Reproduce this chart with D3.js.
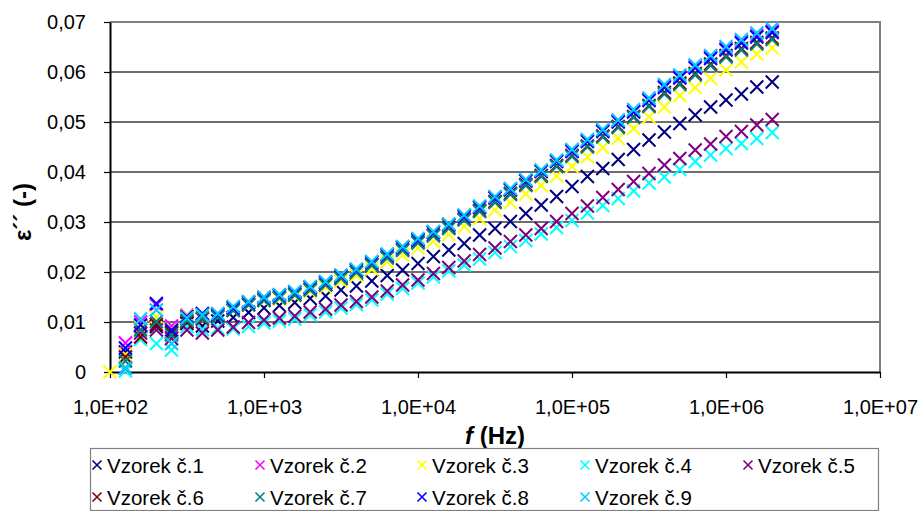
<!DOCTYPE html>
<html>
<head>
<meta charset="utf-8">
<script src="https://cdn.jsdelivr.net/npm/d3@7"></script>
<style>
  html, body { margin: 0; padding: 0; background: #fff; }
  svg text { font-family: "Liberation Sans", Arial, sans-serif; fill: #000; }
</style>
</head>
<body>
<svg id="chart" width="920" height="511"></svg>
<script>
// Measurement frequencies (Hz), ten per decade
const frequencies = [
  100, 126, 158, 200, 251, 316, 398, 501, 631, 794,
  1000, 1259, 1585, 1995, 2512, 3162, 3981, 5012, 6310, 7943,
  10000, 12589, 15849, 19953, 25119, 31623, 39811, 50119, 63096, 79433,
  100000, 125893, 158489, 199526, 251189, 316228, 398107, 501187, 630957, 794328,
  1000000, 1258925, 1584893, 1995262
];

const seriesNames = ["Vzorek č.1", "Vzorek č.2", "Vzorek č.3", "Vzorek č.4", "Vzorek č.5",
                     "Vzorek č.6", "Vzorek č.7", "Vzorek č.8", "Vzorek č.9"];
const seriesColors = ["#000080", "#FF00FF", "#FFFF00", "#00FFFF", "#800080",
                      "#800000", "#008080", "#0000FF", "#00CCFF"];

// Dielectric loss factor ε'' per sample
const vzorek1 = [null, 0.0040, 0.0091, 0.0091, 0.0080, 0.0097, 0.0092, 0.0102, 0.0109, 0.0119,
  0.0128, 0.0133, 0.0139, 0.0147, 0.0152, 0.0164, 0.0172, 0.0182, 0.0193, 0.0204,
  0.0217, 0.0231, 0.0244, 0.0257, 0.0274, 0.0287, 0.0301, 0.0317, 0.0334, 0.0351,
  0.0371, 0.0391, 0.0407, 0.0425, 0.0445, 0.0464, 0.0480, 0.0497, 0.0514, 0.0530,
  0.0544, 0.0556, 0.0570, 0.0580];
const vzorek2 = [null, 0.0058, 0.0100, 0.0134, 0.0092, 0.0114, 0.0115, 0.0116, 0.0129, 0.0140,
  0.0149, 0.0154, 0.0160, 0.0170, 0.0180, 0.0193, 0.0205, 0.0220, 0.0235, 0.0250,
  0.0265, 0.0280, 0.0295, 0.0312, 0.0330, 0.0349, 0.0365, 0.0383, 0.0402, 0.0422,
  0.0443, 0.0463, 0.0483, 0.0502, 0.0522, 0.0545, 0.0572, 0.0591, 0.0611, 0.0630,
  0.0647, 0.0661, 0.0673, 0.0682];
const vzorek3 = [0.0000, 0.0035, 0.0090, 0.0110, 0.0085, 0.0113, 0.0110, 0.0112, 0.0124, 0.0134,
  0.0142, 0.0146, 0.0152, 0.0161, 0.0170, 0.0182, 0.0193, 0.0206, 0.0220, 0.0234,
  0.0248, 0.0261, 0.0275, 0.0291, 0.0307, 0.0324, 0.0339, 0.0356, 0.0373, 0.0392,
  0.0411, 0.0430, 0.0449, 0.0467, 0.0487, 0.0510, 0.0530, 0.0553, 0.0569, 0.0587,
  0.0604, 0.0620, 0.0636, 0.0648];
const vzorek4 = [null, 0.0002, 0.0065, 0.0057, 0.0044, 0.0091, 0.0085, 0.0088, 0.0086, 0.0091,
  0.0098, 0.0102, 0.0106, 0.0114, 0.0120, 0.0128, 0.0135, 0.0144, 0.0156, 0.0167,
  0.0178, 0.0190, 0.0202, 0.0214, 0.0226, 0.0239, 0.0251, 0.0263, 0.0276, 0.0289,
  0.0303, 0.0318, 0.0333, 0.0347, 0.0362, 0.0378, 0.0390, 0.0405, 0.0421, 0.0434,
  0.0447, 0.0457, 0.0467, 0.0479];
const vzorek5 = [null, 0.0008, 0.0078, 0.0084, 0.0067, 0.0084, 0.0078, 0.0084, 0.0090, 0.0099,
  0.0104, 0.0108, 0.0112, 0.0120, 0.0126, 0.0134, 0.0141, 0.0150, 0.0162, 0.0174,
  0.0184, 0.0197, 0.0209, 0.0222, 0.0235, 0.0248, 0.0261, 0.0274, 0.0287, 0.0301,
  0.0317, 0.0332, 0.0349, 0.0365, 0.0381, 0.0397, 0.0414, 0.0427, 0.0444, 0.0456,
  0.0471, 0.0481, 0.0494, 0.0505];
const vzorek6 = [null, 0.0030, 0.0070, 0.0095, 0.0078, 0.0100, 0.0106, 0.0112, 0.0124, 0.0135,
  0.0144, 0.0149, 0.0155, 0.0165, 0.0175, 0.0188, 0.0200, 0.0215, 0.0230, 0.0245,
  0.0260, 0.0274, 0.0289, 0.0306, 0.0323, 0.0341, 0.0357, 0.0375, 0.0393, 0.0413,
  0.0433, 0.0452, 0.0472, 0.0491, 0.0511, 0.0533, 0.0559, 0.0578, 0.0597, 0.0616,
  0.0633, 0.0647, 0.0659, 0.0668];
const vzorek7 = [null, 0.0022, 0.0084, 0.0101, 0.0074, 0.0103, 0.0108, 0.0110, 0.0123, 0.0134,
  0.0143, 0.0148, 0.0154, 0.0164, 0.0174, 0.0187, 0.0199, 0.0213, 0.0228, 0.0243,
  0.0258, 0.0272, 0.0287, 0.0304, 0.0321, 0.0339, 0.0355, 0.0373, 0.0391, 0.0411,
  0.0431, 0.0450, 0.0470, 0.0489, 0.0509, 0.0531, 0.0556, 0.0575, 0.0594, 0.0613,
  0.0630, 0.0644, 0.0656, 0.0665];
const vzorek8 = [null, 0.0048, 0.0094, 0.0137, 0.0084, 0.0111, 0.0117, 0.0115, 0.0128, 0.0139,
  0.0148, 0.0153, 0.0159, 0.0169, 0.0179, 0.0192, 0.0204, 0.0219, 0.0234, 0.0249,
  0.0264, 0.0279, 0.0294, 0.0311, 0.0329, 0.0348, 0.0364, 0.0382, 0.0401, 0.0421,
  0.0441, 0.0461, 0.0481, 0.0500, 0.0520, 0.0543, 0.0569, 0.0588, 0.0608, 0.0627,
  0.0644, 0.0658, 0.0670, 0.0679];
const vzorek9 = [null, 0.0008, 0.0106, 0.0124, 0.0057, 0.0108, 0.0114, 0.0117, 0.0131, 0.0141,
  0.0150, 0.0155, 0.0161, 0.0171, 0.0181, 0.0194, 0.0206, 0.0221, 0.0236, 0.0251,
  0.0267, 0.0281, 0.0296, 0.0314, 0.0332, 0.0351, 0.0367, 0.0385, 0.0404, 0.0424,
  0.0445, 0.0465, 0.0485, 0.0504, 0.0525, 0.0548, 0.0575, 0.0594, 0.0614, 0.0633,
  0.0651, 0.0665, 0.0678, 0.0687];

const seriesValues = [vzorek1, vzorek2, vzorek3, vzorek4, vzorek5, vzorek6, vzorek7, vzorek8, vzorek9];

// Axis ticks
const xTicks = [1e2, 1e3, 1e4, 1e5, 1e6, 1e7];
const xTickLabels = ["1,0E+02", "1,0E+03", "1,0E+04", "1,0E+05", "1,0E+06", "1,0E+07"];
const yTicks = [0, 0.01, 0.02, 0.03, 0.04, 0.05, 0.06, 0.07];
const yTickLabels = ["0", "0,01", "0,02", "0,03", "0,04", "0,05", "0,06", "0,07"];

const svg = d3.select("#chart");
const plot = { left: 110, right: 880, top: 22, bottom: 372 };

const x = d3.scaleLog().domain([1e2, 1e7]).range([plot.left, plot.right]);
const y = d3.scaleLinear().domain([0, 0.07]).range([plot.bottom, plot.top]);

// Horizontal gridlines
svg.append("g")
  .selectAll("line")
  .data(yTicks.slice(1))
  .join("line")
  .attr("x1", plot.left).attr("x2", plot.right)
  .attr("y1", d => y(d)).attr("y2", d => y(d))
  .attr("stroke", "#6e6e6e").attr("stroke-width", 1.2)
  .attr("shape-rendering", "crispEdges");

// Plot area frame (top and right)
svg.append("path")
  .attr("d", `M${plot.left},${plot.top}H${plot.right}V${plot.bottom}`)
  .attr("fill", "none").attr("stroke", "#808080").attr("stroke-width", 2);

// Y axis
const yAxis = d3.axisLeft(y)
  .tickValues(yTicks)
  .tickFormat((d, i) => yTickLabels[i])
  .tickSize(6).tickSizeOuter(0).tickPadding(18);
const gy = svg.append("g").attr("transform", `translate(${plot.left},0)`).call(yAxis);
gy.select(".domain").attr("stroke", "#000").attr("stroke-width", 2);
gy.selectAll(".tick line").attr("stroke", "#000").attr("stroke-width", 1.2);
gy.selectAll(".tick text")
  .attr("font-family", "Liberation Sans, Arial, sans-serif")
  .attr("font-size", 20).attr("fill", "#000");

// X axis
const xAxis = d3.axisBottom(x)
  .tickValues(xTicks)
  .tickFormat((d, i) => xTickLabels[i])
  .tickSize(6).tickSizeOuter(0).tickPadding(22);
const gx = svg.append("g").attr("transform", `translate(0,${plot.bottom})`).call(xAxis);
gx.select(".domain").attr("stroke", "#000").attr("stroke-width", 2);
gx.selectAll(".tick line").attr("stroke", "#000").attr("stroke-width", 1.2);
gx.selectAll(".tick text")
  .attr("font-family", "Liberation Sans, Arial, sans-serif")
  .attr("font-size", 20).attr("fill", "#000");

// X markers for every sample
const half = 6.5;
const crossPath = (cx, cy, h) => `M${cx - h},${cy - h}L${cx + h},${cy + h}M${cx - h},${cy + h}L${cx + h},${cy - h}`;

seriesValues.forEach((vals, s) => {
  const pts = frequencies.map((f, i) => ({ f, v: vals[i] })).filter(p => p.v !== null);
  svg.append("g")
    .selectAll("path")
    .data(pts)
    .join("path")
    .attr("d", p => crossPath(x(p.f), y(p.v), half))
    .attr("stroke", seriesColors[s])
    .attr("stroke-width", 2)
    .attr("fill", "none");
});

// Axis titles
const xTitle = svg.append("text")
  .attr("x", 495).attr("y", 444)
  .attr("text-anchor", "middle")
  .attr("font-size", 24).attr("font-weight", "bold");
xTitle.append("tspan").attr("font-style", "italic").text("f");
xTitle.append("tspan").text(" (Hz)");

svg.append("text")
  .attr("transform", "translate(31,212) rotate(-90)")
  .attr("text-anchor", "middle")
  .attr("font-size", 24).attr("font-weight", "bold")
  .text("ε´´ (-)");

// Legend
const legend = svg.append("g");
legend.append("rect")
  .attr("x", 90.5).attr("y", 448.5).attr("width", 788).attr("height", 62)
  .attr("fill", "#fff").attr("stroke", "#808080").attr("stroke-width", 1.2);

const colX = [97, 260, 422, 585, 748];
const rowY = [465, 497];
seriesNames.forEach((name, i) => {
  const cx = colX[i % 5];
  const cy = rowY[Math.floor(i / 5)];
  legend.append("path")
    .attr("d", crossPath(cx, cy, 4.5))
    .attr("stroke", seriesColors[i]).attr("stroke-width", 1.6).attr("fill", "none");
  legend.append("text")
    .attr("x", cx + 10).attr("y", cy + 7.5)
    .attr("font-size", 20.5)
    .text(name);
});
</script>
</body>
</html>
